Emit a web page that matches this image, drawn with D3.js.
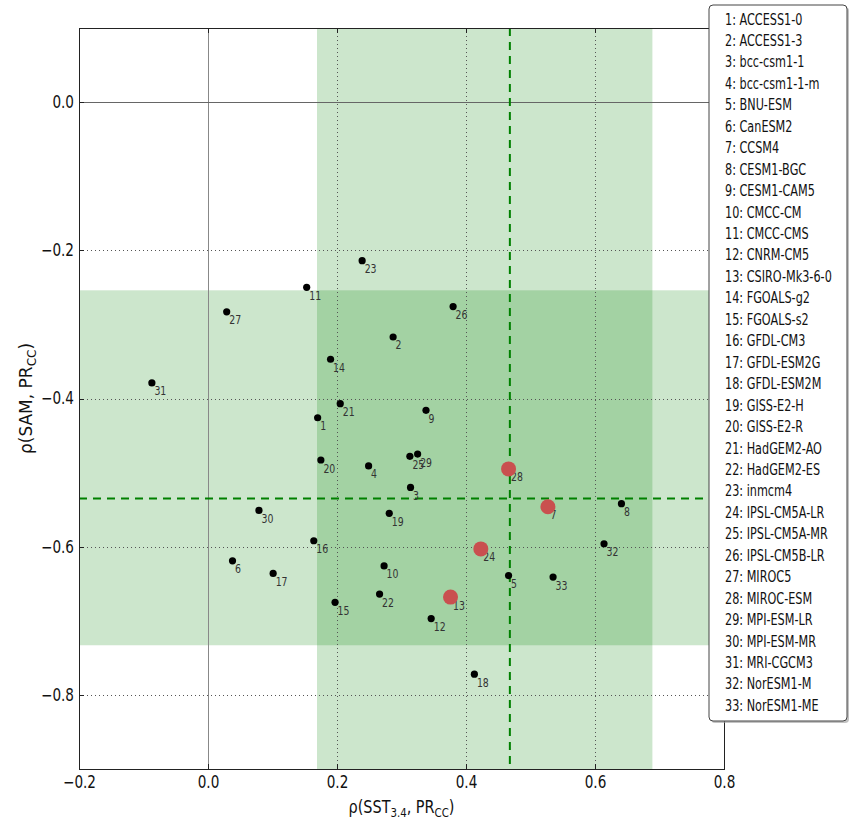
<!DOCTYPE html>
<meta charset="utf-8">
<style>
    body {
        margin: 0;
        background-color: #ffffff;
    }
    svg text {
        font-family: "DejaVu Sans", sans-serif;
    }
    .grid line {
        stroke: #555;
        stroke-width: 1px;
        stroke-dasharray: 1, 3;
        shape-rendering: crispEdges;
    }
    .grid path {
        display: none;
    }
    .zero {
        shape-rendering: crispEdges;
    }
    .axis path,
    .axis line {
        fill: none;
        stroke: #222;
        stroke-width: 1px;
        shape-rendering: crispEdges;
    }
</style>
<svg width="850" height="819"></svg>
<script src="https://cdn.jsdelivr.net/npm/d3@7"></script>
<script>
    // CMIP5 models, numbered 1..33 in the legend
    var models = ["ACCESS1-0", "ACCESS1-3", "bcc-csm1-1", "bcc-csm1-1-m", "BNU-ESM", "CanESM2",
        "CCSM4", "CESM1-BGC", "CESM1-CAM5", "CMCC-CM", "CMCC-CMS", "CNRM-CM5", "CSIRO-Mk3-6-0",
        "FGOALS-g2", "FGOALS-s2", "GFDL-CM3", "GFDL-ESM2G", "GFDL-ESM2M", "GISS-E2-H", "GISS-E2-R",
        "HadGEM2-AO", "HadGEM2-ES", "inmcm4", "IPSL-CM5A-LR", "IPSL-CM5A-MR", "IPSL-CM5B-LR",
        "MIROC5", "MIROC-ESM", "MPI-ESM-LR", "MPI-ESM-MR", "MRI-CGCM3", "NorESM1-M", "NorESM1-ME"];

    // rho(SST3.4, PRcc)
    var sstCorr = [0.170, 0.287, 0.314, 0.249, 0.466, 0.038, 0.527, 0.641, 0.338, 0.273, 0.153,
        0.346, 0.376, 0.190, 0.197, 0.164, 0.101, 0.413, 0.281, 0.175, 0.205, 0.266, 0.239,
        0.423, 0.313, 0.380, 0.029, 0.466, 0.325, 0.079, -0.087, 0.614, 0.535];

    // rho(SAM, PRcc)
    var samCorr = [-0.426, -0.317, -0.520, -0.491, -0.639, -0.619, -0.546, -0.542, -0.416, -0.626,
        -0.250, -0.697, -0.668, -0.347, -0.675, -0.592, -0.636, -0.772, -0.555, -0.483, -0.407,
        -0.664, -0.214, -0.603, -0.478, -0.276, -0.283, -0.495, -0.475, -0.551, -0.379, -0.596, -0.641];

    var highlighted = [7, 13, 24, 28];

    // observed ranges (shaded) and mean (dashed)
    var sstBand = [0.169, 0.689];
    var samBand = [-0.733, -0.254];
    var sstMean = 0.468;
    var samMean = -0.535;

    var xTicks = [-0.2, 0.0, 0.2, 0.4, 0.6, 0.8];
    var yTicks = [0.0, -0.2, -0.4, -0.6, -0.8];

    var svg = d3.select("svg"),
        margin = {top: 28, left: 79},
        width = 645,
        height = 741;

    var x = d3.scaleLinear().domain([-0.2, 0.8]).range([0, width]);
    var y = d3.scaleLinear().domain([-0.9, 0.1]).range([height, 0]);

    var data = models.map(function(m, i) {
        return {n: i + 1, name: m, x: sstCorr[i], y: samCorr[i]};
    });

    var g = svg.append("g")
        .attr("transform", "translate(" + margin.left + "," + margin.top + ")");

    // shaded bands
    g.append("rect")
        .attr("x", x(sstBand[0]))
        .attr("y", 0)
        .attr("width", x(sstBand[1]) - x(sstBand[0]))
        .attr("height", height)
        .attr("fill", "rgb(0,128,0)")
        .attr("fill-opacity", 0.2);
    g.append("rect")
        .attr("x", 0)
        .attr("y", y(samBand[1]))
        .attr("width", width)
        .attr("height", y(samBand[0]) - y(samBand[1]))
        .attr("fill", "rgb(0,128,0)")
        .attr("fill-opacity", 0.2);

    // dotted grid
    g.append("g")
        .attr("class", "grid")
        .attr("transform", "translate(0," + height + ")")
        .call(d3.axisBottom(x).tickValues(xTicks).tickSize(-height).tickFormat(""));
    g.append("g")
        .attr("class", "grid")
        .call(d3.axisLeft(y).tickValues(yTicks).tickSize(-width).tickFormat(""));

    // zero lines
    g.append("line")
        .attr("class", "zero")
        .attr("x1", x(0)).attr("x2", x(0))
        .attr("y1", 0).attr("y2", height)
        .attr("stroke", "#888").attr("stroke-width", 1);
    g.append("line")
        .attr("class", "zero")
        .attr("x1", 0).attr("x2", width)
        .attr("y1", y(0)).attr("y2", y(0))
        .attr("stroke", "#666").attr("stroke-width", 1);

    // mean lines
    g.append("line")
        .attr("x1", x(sstMean)).attr("x2", x(sstMean))
        .attr("y1", 0).attr("y2", height)
        .attr("stroke", "#008000").attr("stroke-width", 2)
        .attr("stroke-dasharray", "8,6");
    g.append("line")
        .attr("x1", 0).attr("x2", width)
        .attr("y1", y(samMean)).attr("y2", y(samMean))
        .attr("stroke", "#008000").attr("stroke-width", 2)
        .attr("stroke-dasharray", "8,6");

    // axes, ticks pointing in
    var fmt = d3.format(".1f");
    g.append("g")
        .attr("class", "x axis")
        .attr("transform", "translate(0," + height + ")")
        .call(d3.axisBottom(x).tickValues(xTicks).tickSizeInner(-5).tickSizeOuter(0).tickPadding(7).tickFormat(fmt))
        .selectAll("text")
        .attr("font-size", 17)
        .attr("fill", "#111")
        .attr("transform", "scale(0.8,1)");
    g.append("g")
        .attr("class", "y axis")
        .call(d3.axisLeft(y).tickValues(yTicks).tickSizeInner(-5).tickSizeOuter(0).tickPadding(5).tickFormat(fmt))
        .selectAll("text")
        .attr("font-size", 17)
        .attr("fill", "#111")
        .attr("x", -5 / 0.8)
        .attr("transform", "scale(0.8,1)");
    g.append("g")
        .attr("class", "axis")
        .call(d3.axisTop(x).tickValues(xTicks).tickSizeInner(-5).tickSizeOuter(0).tickFormat(""));
    g.append("g")
        .attr("class", "axis")
        .attr("transform", "translate(" + width + ",0)")
        .call(d3.axisRight(y).tickValues(yTicks).tickSizeInner(-5).tickSizeOuter(0).tickFormat(""));

    // model points
    g.selectAll(".dot")
        .data(data.filter(function(d) { return highlighted.indexOf(d.n) < 0; }))
        .enter().append("circle")
        .attr("class", "dot")
        .attr("cx", function(d) { return x(d.x); })
        .attr("cy", function(d) { return y(d.y); })
        .attr("r", 3.6)
        .attr("fill", "#000");

    g.selectAll(".textlabel")
        .data(data)
        .enter().append("text")
        .attr("class", "textlabel")
        .attr("transform", function(d) {
            return "translate(" + (x(d.x) + 2.5) + "," + (y(d.y) + 12.5) + ") scale(0.75,1)";
        })
        .attr("font-size", 12.5)
        .attr("fill", "#333")
        .text(function(d) { return d.n; });

    g.selectAll(".hidot")
        .data(data.filter(function(d) { return highlighted.indexOf(d.n) >= 0; }))
        .enter().append("circle")
        .attr("class", "hidot")
        .attr("cx", function(d) { return x(d.x); })
        .attr("cy", function(d) { return y(d.y); })
        .attr("r", 7.5)
        .attr("fill", "#c9504f");

    // axis labels
    var xl = svg.append("text")
        .attr("transform", "translate(" + (margin.left + width / 2) + ",813) scale(0.85,1)")
        .attr("text-anchor", "middle")
        .attr("font-size", 17)
        .attr("fill", "#111");
    xl.append("tspan").text("\u03c1(SST");
    xl.append("tspan").attr("font-size", 12).attr("dy", 4).text("3.4");
    xl.append("tspan").attr("dy", -4).text(", PR");
    xl.append("tspan").attr("font-size", 12).attr("dy", 4).text("CC");
    xl.append("tspan").attr("dy", -4).text(")");

    var yl = svg.append("text")
        .attr("transform", "translate(32," + (margin.top + height / 2) + ") rotate(-90)")
        .attr("text-anchor", "middle")
        .attr("font-size", 17)
        .attr("fill", "#111");
    yl.append("tspan").text("\u03c1(SAM, PR");
    yl.append("tspan").attr("font-size", 12).attr("dy", 4).text("CC");
    yl.append("tspan").attr("dy", -4).text(")");

    // legend
    var legend = svg.append("g");
    legend.append("rect")
        .attr("x", 711).attr("y", 7)
        .attr("width", 138).attr("height", 716)
        .attr("rx", 4)
        .attr("fill", "#999").attr("fill-opacity", 0.6);
    legend.append("rect")
        .attr("x", 709).attr("y", 5)
        .attr("width", 138).attr("height", 716)
        .attr("rx", 4)
        .attr("fill", "#fff").attr("stroke", "#444").attr("stroke-width", 1);
    legend.selectAll(".entry")
        .data(data)
        .enter().append("text")
        .attr("class", "entry")
        .attr("transform", function(d, i) { return "translate(725," + (24.5 + 21.45 * i) + ") scale(0.75,1)"; })
        .attr("font-size", 15)
        .attr("fill", "#111")
        .text(function(d) { return d.n + ": " + d.name; });
</script>
